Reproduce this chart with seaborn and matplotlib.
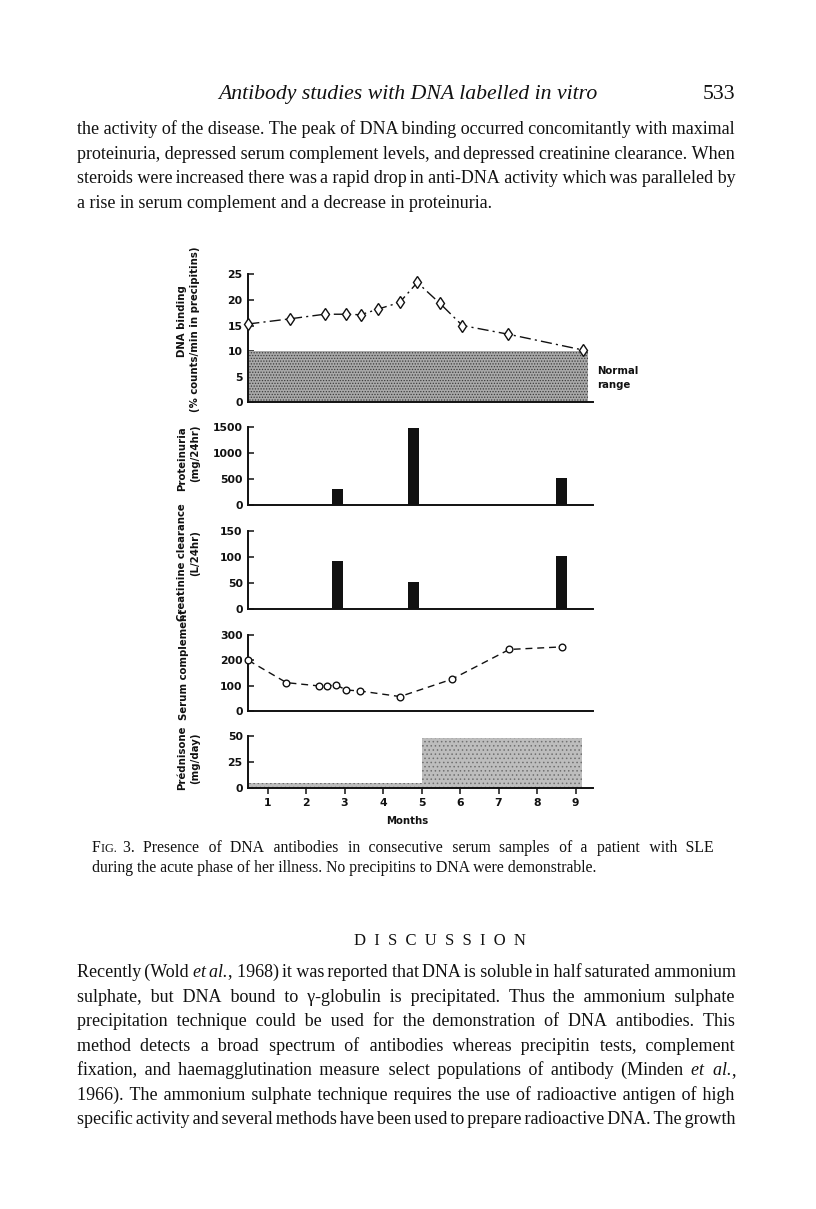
import re
import matplotlib
matplotlib.use("Agg")
import matplotlib.pyplot as plt
import numpy as np
import pandas as pd
import seaborn as sns

# ---------------- data ----------------
month_ticks = [1, 2, 3, 4, 5, 6, 7, 8, 9]

dna_month = [0.5, 1.58, 2.48, 3.03, 3.42, 3.87, 4.43, 4.89, 5.48, 6.06, 7.25, 9.2]
dna_binding = [15.3, 16.3, 17.2, 17.2, 17.1, 18.2, 19.5, 23.4, 19.3, 15.0, 13.3, 10.2]
normal_low, normal_high = 0, 10
normal_months = [0.5, 9.33]

prot_month = [2.82, 4.79, 8.64]
proteinuria = [310, 1480, 530]

creat_month = [2.82, 4.79, 8.64]
creatinine = [92, 53, 102]

comp_month = [0.5, 1.49, 2.33, 2.55, 2.78, 3.04, 3.40, 4.44, 5.78, 7.28, 8.64]
complement = [200, 112, 99, 99, 103, 83, 79, 57, 125, 243, 253]

pred_start = [0.5, 5.0]
pred_end = [5.0, 9.17]
pred_dose = [5, 48]

dna_ticks = [0, 5, 10, 15, 20, 25]
prot_ticks = [0, 500, 1000, 1500]
creat_ticks = [0, 50, 100, 150]
comp_ticks = [0, 100, 200, 300]
pred_ticks = [0, 25, 50]

para1 = [
    "the activity of the disease. The peak of DNA binding occurred concomitantly with maximal",
    "proteinuria, depressed serum complement levels, and depressed creatinine clearance. When",
    "steroids were increased there was a rapid drop in anti-DNA activity which was paralleled by",
    "a rise in serum complement and a decrease in proteinuria.",
]
para2 = [
    "Recently (Wold *et* *al.*, 1968) it was reported that DNA is soluble in half saturated ammonium",
    "sulphate, but DNA bound to \u03b3-globulin is precipitated. Thus the ammonium sulphate",
    "precipitation technique could be used for the demonstration of DNA antibodies. This",
    "method detects a broad spectrum of antibodies whereas precipitin tests, complement",
    "fixation, and haemagglutination measure select populations of antibody (Minden *et* *al.*,",
    "1966). The ammonium sulphate technique requires the use of radioactive antigen of high",
    "specific activity and several methods have been used to prepare radioactive DNA. The growth",
]
caption = [
    "F^IG.^ 3. Presence of DNA antibodies in consecutive serum samples of a patient with SLE",
    "during the acute phase of her illness. No precipitins to DNA were demonstrable.",
]
header = "Antibody studies with DNA labelled in vitro"
page_no = "533"

# ---------------- setup ----------------
sns.set_style("ticks")
plt.rcParams["font.family"] = ["DejaVu Sans"]
plt.rcParams["hatch.linewidth"] = 0.6

W, H = 816, 1209
fig = plt.figure(figsize=(W / 100, H / 100), dpi=100)
fig.patch.set_facecolor("white")
renderer = fig.canvas.get_renderer()

SERIF = ["Liberation Serif", "DejaVu Serif"]
LAB = "DejaVu Sans"
INK = "#111111"


def fy(y):
    return 1 - y / H


def measure(txt, size, style="normal"):
    t = fig.text(0, 0, txt, fontsize=size, family=SERIF, style=style)
    w = t.get_window_extent(renderer).width
    t.remove()
    return w


def adv(txt, size, style="normal"):
    return measure(txt + "|", size, style) - measure("|", size, style)


def parse(word):
    segs = []
    for part in re.split(r"(\*[^*]+\*|\^[^^]+\^)", word):
        if not part:
            continue
        if part.startswith("*"):
            segs.append((part[1:-1], "italic", 1.0))
        elif part.startswith("^"):
            segs.append((part[1:-1], "normal", 0.78))
        else:
            segs.append((part, "normal", 1.0))
    return segs


def pick_space(size):
    for ch in ["\u200a", "\u2009", " "]:
        w = adv(ch * 20, size) / 20
        if w > 0.4:
            return ch, w
    return " ", adv(" ", size)


def text_line(line, x0, x1, y, size, justify=True, style="normal", words=None):
    """One text run per style change; word gaps built from hair spaces."""
    if words is None:
        words = line.split(" ")
    n = len(words)
    wsegs = [[(t, ("italic" if style == "italic" else st), sc) for t, st, sc in parse(w)]
             for w in words]
    wwidth = [sum(adv(t, size * sc, st) for t, st, sc in segs) for segs in wsegs]
    sp_ch, sp_w = pick_space(size)
    gap = (x1 - x0 - sum(wwidth)) / max(n - 1, 1)
    runs = []
    for i, segs in enumerate(wsegs):
        for t, st, sc in segs:
            if runs and runs[-1][1] == st and runs[-1][2] == sc:
                runs[-1][0] += t
            else:
                runs.append([t, st, sc])
        if i < n - 1:
            if justify:
                k = round((i + 1) * gap / sp_w) - round(i * gap / sp_w)
                runs[-1][0] += sp_ch * max(k, 1)
            else:
                runs[-1][0] += " "
    x = x0
    for t, st, sc in runs:
        fig.text(x / W, fy(y), t, fontsize=size * sc, family=SERIF, style=st,
                 va="baseline", ha="left", color=INK)
        x += adv(t, size * sc, st)


# ---------------- page text ----------------
hs = 12 * 379 / adv(header, 12, "italic")
text_line(header, 218, 597, 99, hs, justify=False, style="italic")
fig.text(735 / W, fy(99), page_no, fontsize=hs, family=SERIF, ha="right", va="baseline",
         color=INK)

bs = 1.03 * 12 * 401 / adv(para1[3], 12)
for i, line in enumerate(para1):
    text_line(line, 77, 735, 134 + 24.6 * i, bs, justify=(i < 3))

cs = 12 * 504 / adv(caption[1], 12)
text_line(caption[0], 92, 717, 852, cs, justify=True)
text_line(caption[1], 92, 717, 872, cs, justify=False)

text_line("DISCUSSION", 354, 526, 945, 12, justify=True, words=list("DISCUSSION"))

for i, line in enumerate(para2):
    text_line(line, 77, 735, 977 + 24.55 * i, bs, justify=True)

# ---------------- chart panels ----------------
XL, XR = 248.3, 593.0
xlim = (0.5, 0.5 + (XR - XL) / 38.5)


def panel(top, bottom):
    return fig.add_axes([XL / W, 1 - bottom / H, (XR - XL) / W, (bottom - top) / H])


TICK_FS = 7.8
spine_lw = 1.4


def style_axis(ax, yticks, ylim, xlabels=False):
    ax.set_xlim(*xlim)
    ax.set_ylim(*ylim)
    ax.set_yticks(yticks)
    ax.set_yticklabels([str(v) for v in yticks], fontsize=TICK_FS, fontweight="bold", family=LAB)
    for s in ["top", "right"]:
        ax.spines[s].set_visible(False)
    for s in ["left", "bottom"]:
        ax.spines[s].set_linewidth(spine_lw)
        ax.spines[s].set_color(INK)
    ax.tick_params(axis="y", direction="in", length=4.5, width=1.1, pad=4, colors=INK)
    if xlabels:
        ax.set_xticks(month_ticks)
        ax.set_xticklabels([str(m) for m in month_ticks], fontsize=TICK_FS, fontweight="bold", family=LAB)
        ax.tick_params(axis="x", direction="out", length=4, width=1.1, pad=3, colors=INK)
    else:
        ax.set_xticks([])
    ax.set_xlabel("")
    ax.set_ylabel("")
    ax.set_facecolor("none")
    ax.grid(False)


# DNA binding
ax1 = panel(402.3 - 128.0, 402.3)
ax1.fill_between(normal_months, [normal_low] * 2, [normal_high] * 2, facecolor="#a9a9a9",
                 hatch="......", edgecolor="#3c3c3c", linewidth=0, zorder=1)
sns.lineplot(x=dna_month, y=dna_binding, ax=ax1, color=INK, linewidth=1.0,
             linestyle=(0, (8, 3, 1.5, 3)), marker="d", markersize=6.5,
             markerfacecolor="white", markeredgecolor=INK, markeredgewidth=1.0,
             clip_on=False, zorder=3)
style_axis(ax1, dna_ticks, (0, 25))

# Proteinuria
ax2 = panel(505 - 77.7, 505)
w_bar = 0.29 / np.min(np.diff(sorted(prot_month)))
sns.barplot(x=prot_month, y=proteinuria, ax=ax2, native_scale=True, width=w_bar,
            color=INK, saturation=1, errorbar=None, linewidth=0, orient="x")
style_axis(ax2, prot_ticks, (0, 1500))

# Creatinine clearance
ax3 = panel(609.3 - 78.6, 609.3)
sns.barplot(x=creat_month, y=creatinine, ax=ax3, native_scale=True, width=w_bar,
            color=INK, saturation=1, errorbar=None, linewidth=0, orient="x")
style_axis(ax3, creat_ticks, (0, 150))

# Serum complement
ax4 = panel(711 - 76, 711)
sns.lineplot(x=comp_month, y=complement, ax=ax4, color=INK, linewidth=1.0,
             linestyle=(0, (5, 3.5)), marker="o", markersize=4.8,
             markerfacecolor="white", markeredgecolor=INK, markeredgewidth=1.0,
             clip_on=False, zorder=3)
style_axis(ax4, comp_ticks, (0, 300))

# Prednisone
ax5 = panel(788.3 - 52.3, 788.3)
pred_width = [e - s for s, e in zip(pred_start, pred_end)]
ax5.bar(pred_start, pred_dose, width=pred_width, align="edge", color="#bdbdbd",
        hatch="....", edgecolor="#707070", linewidth=0, zorder=1)
style_axis(ax5, pred_ticks, (0, 50), xlabels=True)

# y labels
LS = 7.3


def ylab(txt, x, y):
    fig.text(x / W, fy(y), txt, rotation=90, ha="center", va="center", fontsize=LS,
             fontweight="bold", family=LAB, color=INK)


ylab("DNA binding", 182, 321)
ylab("(% counts/min in precipitins)", 195, 329)
ylab("Proteinuria", 182, 459)
ylab("(mg/24hr)", 195, 453)
ylab("Creatinine clearance", 182, 562)
ylab("(L/24hr)", 195, 553)
ylab("Serum complement", 184, 664)
ylab("Prédnisone", 182, 758)
ylab("(mg/day)", 195, 758)

fig.text(597 / W, fy(371), "Normal", fontsize=LS, fontweight="bold", family=LAB,
         ha="left", va="center", color=INK)
fig.text(597 / W, fy(385), "range", fontsize=LS, fontweight="bold", family=LAB,
         ha="left", va="center", color=INK)
fig.text(407 / W, fy(821), "Months", fontsize=LS, fontweight="bold", family=LAB,
         ha="center", va="center", color=INK)

fig.savefig("out.png", dpi=100, facecolor="white")
